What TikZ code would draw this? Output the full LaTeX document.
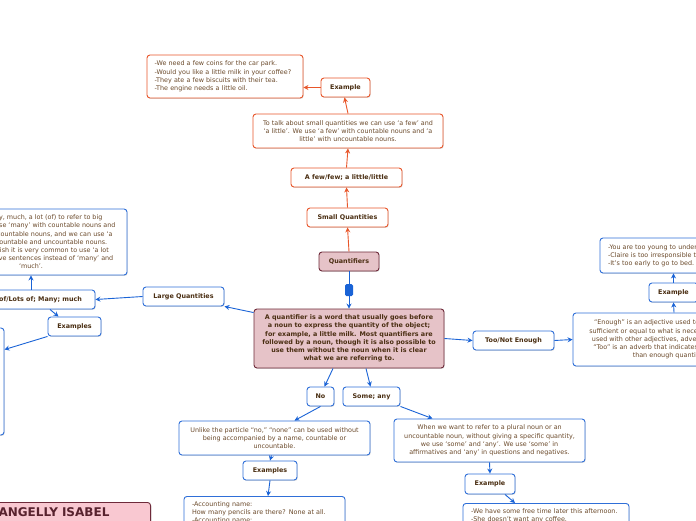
\documentclass[tikz,border=0pt]{standalone}
\usepackage{fontspec}
\setmainfont{DejaVu Sans}
\usetikzlibrary{shadows,arrows.meta}
\definecolor{orn}{HTML}{E8562A}
\definecolor{blu}{HTML}{2F6FD8}
\definecolor{blul}{HTML}{1A63D6}
\definecolor{mar}{HTML}{6E2A3A}
\definecolor{marfill}{HTML}{E6C3C8}
\definecolor{pinkfill}{HTML}{F9C8D1}
\definecolor{labc}{HTML}{4A2E12}
\definecolor{descc}{HTML}{6B4A2B}
\newcommand\labf{\fontsize{6.4}{8.2}\selectfont\bfseries}
\newcommand\descf{\fontsize{6.4}{8.2}\selectfont}
\tikzset{
  boxbase/.style={rounded corners=3pt, line width=0.9pt, fill=white, inner sep=0pt,
    align=center, drop shadow={shadow xshift=0.7pt, shadow yshift=-0.9pt, opacity=0.25, fill=black!60}},
  olab/.style={boxbase, draw=orn, font=\labf, text=labc, minimum height=19pt},
  blab/.style={boxbase, draw=blu, font=\labf, text=labc, minimum height=19pt},
  mlab/.style={boxbase, draw=mar, fill=marfill, font=\labf, text=labc},
  odesc/.style={boxbase, draw=orn, font=\descf, text=descc},
  bdesc/.style={boxbase, draw=blu, font=\descf, text=descc},
  oarr/.style={draw=orn, line width=0.9pt, -{Stealth[length=5pt,width=5pt]}},
  barr/.style={draw=blul, line width=0.9pt, -{Stealth[length=5pt,width=5pt]}},
  junction/.style={fill=blul, draw=none, rounded corners=1.5pt, minimum width=8pt, minimum height=12pt, inner sep=0pt},
}
\begin{document}
\begin{tikzpicture}[x=1pt,y=-1pt]
\useasboundingbox (0,0) rectangle (696,520);
\clip (0,0) rectangle (696,520);
% orange branch
\node[odesc, minimum width=156pt, minimum height=43pt, align=left, text width=141pt] (ex1) at (225,76.5)
  {-We need a few coins for the car park.\\-Would you like a little milk in your coffee?\\-They ate a few biscuits with their tea.\\-The engine needs a little oil.};
\node[olab, minimum width=49pt] (exTop) at (345.5,87.5) {Example};
\node[odesc, minimum width=190pt, minimum height=34pt] (sdesc) at (348,131)
  {To talk about small quantities we can use ‘a few’ and\\‘a little’. We use ‘a few’ with countable nouns and ‘a\\little’ with uncountable nouns.};
\node[olab, minimum width=111pt] (afew) at (346.5,177.5) {A few/few; a little/little};
\node[olab, minimum width=81pt] (smallq) at (347.5,217.5) {Small Quantities};
\node[mlab, minimum width=60pt, minimum height=19pt] (quant) at (349,261.5) {Quantifiers};
\node[mlab, minimum width=190pt, minimum height=59pt] (main) at (349,338.5)
  {A quantifier is a word that usually goes before\\a noun to express the quantity of the object;\\for example, a little milk. Most quantifiers are\\followed by a noun, though it is also possible to\\use them without the noun when it is clear\\what we are referring to.};
% left branch
\node[blab, minimum width=81pt] (largeq) at (183.5,296.5) {Large Quantities};
\node[bdesc, minimum width=192pt, minimum height=66pt] (ldesc) at (31,242)
  {We use many, much, a lot (of) to refer to big\\quantities. We use ‘many’ with countable nouns and\\‘much’ with uncountable nouns, and we can use ‘a\\lot (of)’ with countable and uncountable nouns.\\In spoken English it is very common to use ‘a lot\\(of)’ in affirmative sentences instead of ‘many’ and\\‘much’.};
\node[blab, minimum width=128pt] (alot) at (31,299.5) {A lot of/Lots of; Many; much};
\node[blab, minimum width=53pt] (lex) at (74.5,326.5) {Examples};
\node[bdesc, minimum width=148pt, minimum height=107pt] (lexbox) at (-70,381.5) {};
% right branch
\node[blab, minimum width=81pt] (toon) at (513.5,340.5) {Too/Not Enough};
\node[bdesc, minimum width=190pt, minimum height=53pt] (edesc) at (668,339.5)
  {“Enough” is an adjective used to indicate that\\sufficient or equal to what is necessary. It can be\\used with other adjectives, adverbs and nouns.\\“Too” is an adverb that indicates there is more\\than enough quantity.};
\node[blab, minimum width=49pt] (exr) at (673.5,292.5) {Example};
\node[bdesc, minimum width=150pt, minimum height=35pt, align=left, text width=134pt] (exrbox) at (675,255.5)
  {-You are too young to understand.\\-Claire is too irresponsible to have a pet.\\-It’s too early to go to bed.};
% bottom branch
\node[blab, minimum width=27pt] (no) at (320.5,396.5) {No};
\node[blab, minimum width=57pt] (some) at (371.5,396.5) {Some; any};
\node[bdesc, minimum width=191pt, minimum height=34pt] (nodesc) at (274.5,438)
  {Unlike the particle “no,” “none” can be used without\\being accompanied by a name, countable or\\uncountable.};
\node[blab, minimum width=54pt] (nex) at (270,470.5) {Examples};
\node[bdesc, anchor=north, align=left, text width=145pt, inner xsep=8pt, inner ysep=4pt] (nexbox) at (264.5,496)
  {\rule{0pt}{6pt}-Accounting name:\\How many pencils are there? None at all.\\-Accounting name:\rule[-40pt]{0pt}{40pt}};
\node[bdesc, minimum width=191pt, minimum height=43pt] (somedesc) at (489.5,440.5)
  {When we want to refer to a plural noun or an\\uncountable noun, without giving a specific quantity,\\we use ‘some’ and ‘any’. We use ‘some’ in\\affirmatives and ‘any’ in questions and negatives.};
\node[blab, minimum width=50pt, minimum height=20pt] (sex) at (490,484) {Example};
\node[bdesc, anchor=north, align=left, text width=150pt, inner xsep=8pt, inner ysep=4pt] (sexbox) at (546,503)
  {\rule{0pt}{6pt}-We have some free time later this afternoon.\\-She doesn’t want any coffee.\rule[-40pt]{0pt}{40pt}};
% name box
\node[boxbase, draw=mar, fill=pinkfill, text=mar!80!black, anchor=north east, align=left,
  text width=240pt, inner xsep=5pt, inner ysep=4pt, font=\fontsize{12}{14}\selectfont\bfseries] (name) at (151,502)
  {\hspace*{93pt}ANGELLY ISABEL\rule[-40pt]{0pt}{50pt}};
% connectors
\draw[oarr] (quant.north) -- (smallq.south);
\draw[oarr] (smallq.north) -- (afew.south);
\draw[oarr] (afew.north) -- (sdesc.south);
\draw[oarr] (sdesc.north) -- ([xshift=-1pt]exTop.south);
\draw[oarr] (exTop.west) -- (ex1.east |- exTop.west);
\draw[barr] (quant.south) -- node[junction, pos=0.5]{} (main.north);
\draw[barr] ([yshift=-4pt]main.north west) -- (largeq.south east);
\draw[barr] (largeq.west) -- (alot.east);
\draw[barr] (alot.north) -- (ldesc.south);
\draw[barr] ([xshift=19pt]alot.south) -- ([xshift=-16pt]lex.north);
\draw[barr] (lex.south west) -- ([yshift=-22pt]lexbox.north east);
\draw[barr] (main.east) -- (toon.west);
\draw[barr] (toon.east) -- (edesc.west);
\draw[barr] ([xshift=6pt]edesc.north) -- (exr.south);
\draw[barr] (exr.north) -- (exr.north |- exrbox.south);
\draw[barr] ([xshift=-16pt]main.south) -- ([xshift=4pt]no.north);
\draw[barr] ([xshift=17pt]main.south) -- ([xshift=-1pt]some.north);
\draw[barr] (no.south) -- ([xshift=20pt]nodesc.north);
\draw[barr] (some.south east) -- ([xshift=-57pt]somedesc.north);
\draw[barr] ([xshift=-3pt]nodesc.south) -- (nex.north);
\draw[barr] (nex.south) -- ([xshift=3.5pt]nexbox.north);
\draw[barr] (somedesc.south) -- (sex.north);
\draw[barr] ([xshift=15pt]sex.south) -- ([xshift=-31pt]sexbox.north);
\end{tikzpicture}
\end{document}
